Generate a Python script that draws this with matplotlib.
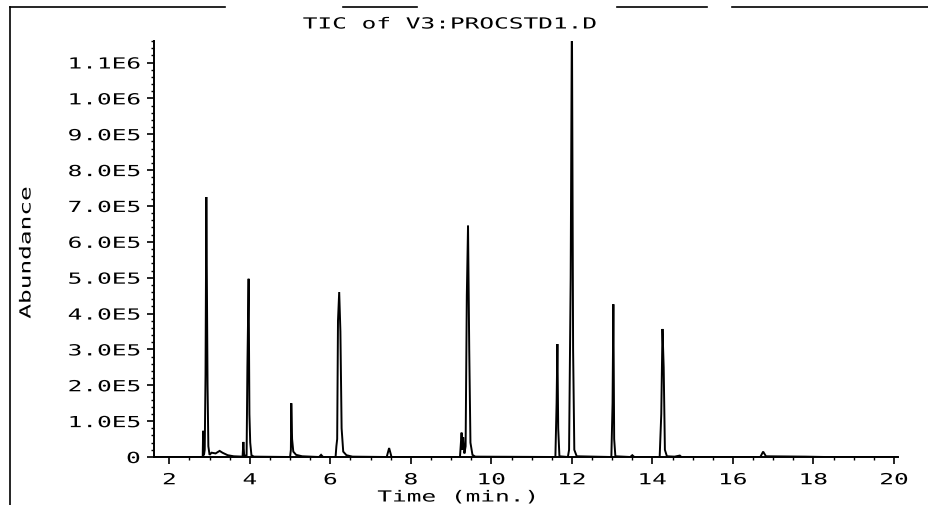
import matplotlib
matplotlib.use("Agg")
import matplotlib.pyplot as plt
from matplotlib.lines import Line2D
from matplotlib.ticker import MultipleLocator, FixedLocator
from matplotlib.patheffects import AbstractPathEffect
from matplotlib.transforms import Affine2D

# Total ion chromatogram trace: retention time (min) and abundance (counts)
time_min = [
    1.62, 2.80, 2.83, 2.84, 2.86, 2.88, 2.90, 2.92, 2.95, 2.97, 3.00, 3.05,
    3.15, 3.25, 3.32, 3.45, 3.60, 3.82, 3.84, 3.86, 3.92, 3.94, 3.97, 3.99,
    4.01, 4.04, 4.10, 5.00, 5.02, 5.03, 5.05, 5.08, 5.15, 5.30, 5.72, 5.77,
    5.82, 6.13, 6.15, 6.17, 6.19, 6.22, 6.25, 6.28, 6.32, 6.40, 6.55, 7.40,
    7.46, 7.52, 9.22, 9.26, 9.28, 9.30, 9.33, 9.36, 9.39, 9.42, 9.45, 9.48,
    9.53, 9.60, 11.59, 11.62, 11.64, 11.66, 11.69, 11.90, 11.93, 11.97, 12.00,
    12.03, 12.06, 12.12, 12.98, 13.01, 13.03, 13.05, 13.08, 13.45, 13.50,
    13.55, 14.18, 14.22, 14.25, 14.28, 14.31, 14.36, 14.55, 14.68, 14.72,
    16.68, 16.75, 16.82, 17.80, 18.30, 20.10,
]
abundance = [
    0, 0, 0, 73000, 5000, 20000, 230000, 725000, 200000, 30000, 6000, 12000,
    10000, 17000, 12000, 5000, 2000, 1000, 42000, 3000, 5000, 250000, 497000,
    120000, 40000, 5000, 1000, 0, 20000, 150000, 50000, 15000, 6000, 2000, 0,
    6000, 0, 0, 30000, 50000, 380000, 460000, 350000, 80000, 15000, 5000,
    1000, 0, 25000, 0, 0, 68000, 20000, 55000, 10000, 30000, 450000, 645000,
    300000, 40000, 6000, 1000, 0, 150000, 315000, 80000, 2000, 0, 20000,
    500000, 1250000, 300000, 20000, 2000, 0, 150000, 426000, 50000, 2000, 0,
    5000, 0, 0, 120000, 357000, 250000, 20000, 2000, 1000, 4000, 0, 0, 15000,
    2000, 1000, 0, 0,
]

x_ticks = [2, 4, 6, 8, 10, 12, 14, 16, 18, 20]
y_ticks = [0, 1e5, 2e5, 3e5, 4e5, 5e5, 6e5, 7e5, 8e5, 9e5, 1.0e6, 1.1e6]
y_tick_labels = ["0", "1.0E5", "2.0E5", "3.0E5", "4.0E5", "5.0E5", "6.0E5",
                 "7.0E5", "8.0E5", "9.0E5", "1.0E6", "1.1E6"]

title_text = "TIC of V3:PROCSTD1.D"
x_label = "Time (min.)"
y_label = "Abundance"

W, H = 929, 506
mono = "DejaVu Sans Mono"
fs = 11
WIDEN = 1.6


class Widen(AbstractPathEffect):
    """Stretch glyph outlines along the text direction (plotter-style lettering)."""

    def __init__(self, factor, anchor="center"):
        super().__init__()
        self.factor = factor
        self.anchor = anchor

    def draw_path(self, renderer, gc, tpath, affine, rgbFace=None):
        ext = tpath.get_extents()
        if self.anchor == "right":
            a = ext.x1
        elif self.anchor == "left":
            a = ext.x0
        else:
            a = 0.5 * (ext.x0 + ext.x1)
        stretch = Affine2D().translate(-a, 0).scale(self.factor, 1).translate(a, 0)
        renderer.draw_path(gc, tpath, stretch + affine, rgbFace)


fig = plt.figure(figsize=(W / 100, H / 100), dpi=100)
fig.patch.set_facecolor("white")

# axes box in pixel terms: left 154, right 898, top 42, bottom 458
ax = fig.add_axes([154 / W, (H - 458) / H, (898 - 154) / W, (458 - 42) / H])
ax.plot(time_min, abundance, color="black", linewidth=1.4, solid_joinstyle="miter")
ax.set_xlim(1.62, 20.1)
ax.set_ylim(0, 1.16e6)

for side in ("top", "right"):
    ax.spines[side].set_visible(False)
for side in ("left", "bottom"):
    ax.spines[side].set_linewidth(1.4)

ax.xaxis.set_major_locator(FixedLocator(x_ticks))
ax.set_xticklabels([str(v) for v in x_ticks], fontfamily=mono, fontsize=fs)
ax.xaxis.set_minor_locator(MultipleLocator(0.5))
ax.yaxis.set_major_locator(FixedLocator(y_ticks))
ax.set_yticklabels(y_tick_labels, fontfamily=mono, fontsize=fs)
ax.yaxis.set_minor_locator(MultipleLocator(2e4))

ax.tick_params(axis="x", which="major", direction="out", length=5, width=1.2,
               colors="black", pad=6)
ax.tick_params(axis="y", which="major", direction="out", length=5, width=1.2,
               colors="black", pad=5)
ax.tick_params(axis="both", which="minor", direction="out", length=2.5, width=1.0,
               colors="black")

for lab in ax.get_xticklabels():
    lab.set_path_effects([Widen(WIDEN, "center")])
for lab in ax.get_yticklabels():
    lab.set_path_effects([Widen(WIDEN, "right")])

# title and axis labels placed on the page
for x, y, s, rot in [(449, 25, title_text, 0), (457, 498, x_label, 0),
                     (26, 254, y_label, 90)]:
    t = fig.text(x / W, 1 - y / H, s, ha="center", va="center", rotation=rot,
                 fontfamily=mono, fontsize=fs)
    t.set_path_effects([Widen(WIDEN, "center")])

# page frame lines
def page_line(x0, y0, x1, y1, lw=1.2):
    fig.add_artist(Line2D([x0 / W, x1 / W], [1 - y0 / H, 1 - y1 / H],
                          transform=fig.transFigure, color="black", linewidth=lw))

page_line(10, 8, 10, 506)
for a, b in [(10, 225), (343, 417), (617, 707), (732, 929)]:
    page_line(a, 8, b, 8)

fig.savefig("out.png", dpi=100, facecolor="white")
